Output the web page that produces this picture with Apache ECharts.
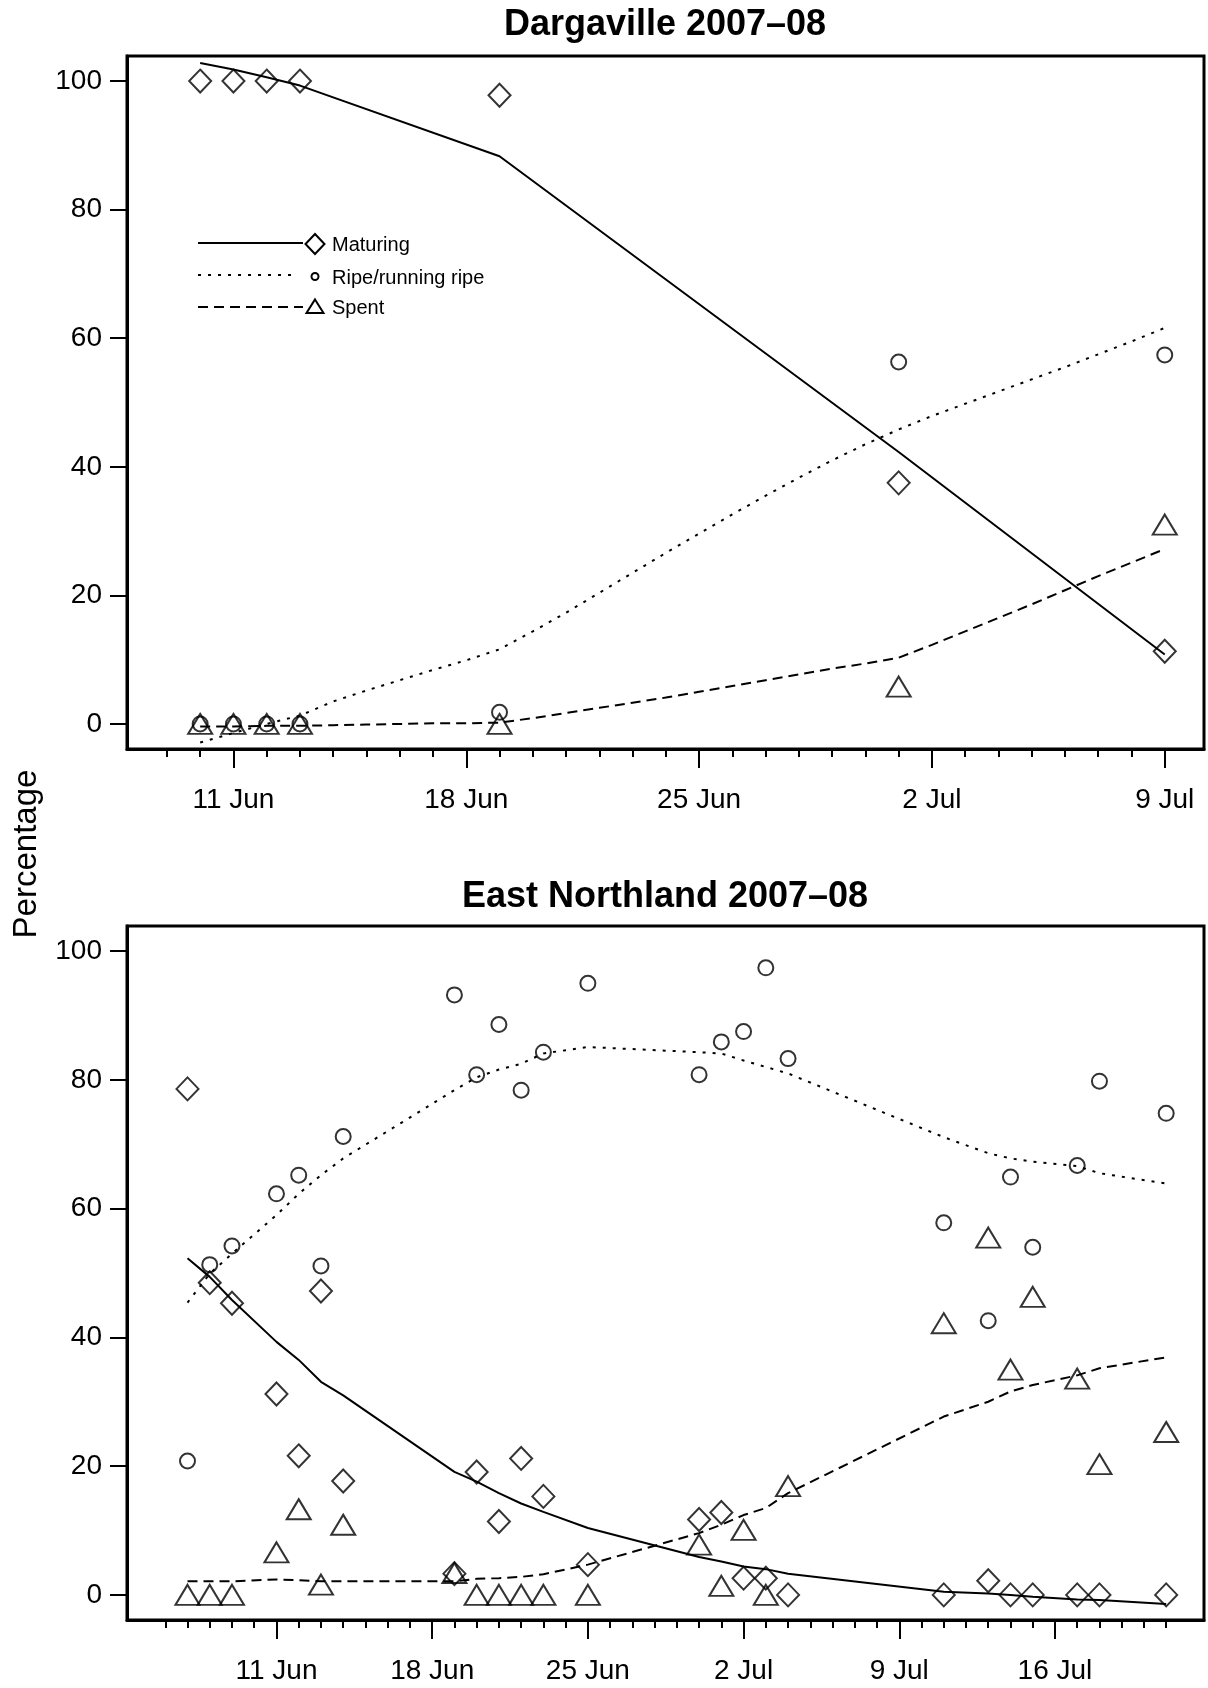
<!DOCTYPE html>
<html>
<head>
<meta charset="utf-8">
<script src="https://cdn.jsdelivr.net/npm/echarts@6/dist/echarts.min.js"></script>
<style>
  html, body { margin: 0; background: #fff; }
  #chart { width: 1208px; height: 1688px; }
</style>
</head>
<body>
<div id="chart"></div>
<script>
// ---- Dargaville 2007-08 ----
const dargDates = ['06-10', '06-11', '06-12', '06-13', '06-19', '07-01', '07-09']
const dargMaturing = [100, 100, 100, 100, 97.8, 37.5, 11.3]
const dargRipe = [0, 0, 0, 0, 1.8, 56.3, 57.4]
const dargSpent = [0, 0, 0, 0, 0, 5.8, 31.0]
const dargMaturingFit = [102.8, 101.8, 100.6, 99.3, 88.3, 42.3, 10.8]
const dargFitDates = [
  '06-10', '06-11', '06-12', '06-13', '06-14', '06-15', '06-16', '06-17', '06-18', '06-19',
  '06-20', '06-21', '06-22', '06-23', '06-24', '06-25', '06-26', '06-27', '06-28', '06-29',
  '06-30', '07-01', '07-02', '07-03', '07-04', '07-05', '07-06', '07-07', '07-08', '07-09',
]
const dargRipeFit = [
  -2.9, -1.4, 0.0, 1.3, 3.5, 5.2, 6.8, 8.4, 9.9, 11.6,
  14.4, 17.3, 20.4, 23.5, 26.6, 29.6, 32.6, 35.5, 38.3, 41.0,
  43.5, 45.8, 47.9, 49.8, 51.7, 53.6, 55.5, 57.5, 59.5, 61.6,
]
const dargSpentFit = [
  -0.4, -0.4, -0.3, -0.3, -0.2, -0.1, 0.0, 0.1, 0.1, 0.2,
  0.9, 1.7, 2.5, 3.3, 4.1, 5.0, 5.9, 6.8, 7.7, 8.6,
  9.4, 10.3, 12.3, 14.4, 16.5, 18.6, 20.8, 23.0, 25.1, 27.2,
]
const dargMajorTicks = ['06-11', '06-18', '06-25', '07-02', '07-09']
const dargTickLabels = ['11 Jun', '18 Jun', '25 Jun', '2 Jul', '9 Jul']

// ---- East Northland 2007-08 ----
const enDates = [
  '06-07', '06-08', '06-09', '06-11', '06-12', '06-13', '06-14', '06-19', '06-20', '06-21',
  '06-22', '06-23', '06-25', '06-30', '07-01', '07-02', '07-03', '07-04', '07-11', '07-13',
  '07-14', '07-15', '07-17', '07-18', '07-21',
]
const enMaturing = [
  78.6, 48.5, 45.3, 31.2, 21.6, 47.2, 17.7, 3.3, 19.1, 11.4,
  21.2, 15.3, 4.7, 11.7, 12.8, 2.6, 2.6, 0, 0, 2.2,
  0, 0, 0, 0, 0,
]
const enRipe = [
  20.8, 51.3, 54.2, 62.3, 65.2, 51.1, 71.2, 93.2, 80.8, 88.6,
  78.4, 84.3, 95.0, 80.8, 85.9, 87.5, 97.4, 83.3, 57.8, 42.6,
  64.9, 54.0, 66.7, 79.8, 74.8,
]
const enSpent = [
  0, 0, 0, 6.6, 13.3, 1.6, 10.9, 3.4, 0, 0,
  0, 0, 0, 7.8, 1.4, 10.1, 0, 16.9, 42.2, 55.5,
  35.0, 46.3, 33.6, 20.3, 25.3,
]
const enMaturingFit = [
  52.3, 49.4, 45.8, 39.3, 36.5, 33.1, 31.0, 19.1, 17.6, 15.8,
  14.2, 12.9, 10.4, 5.9, 5.2, 4.4, 4.0, 3.3, 0.5, 0.2,
  0.0, -0.3, -0.7, -0.8, -1.4,
]
const enRipeFit = [
  45.4, 49.9, 53.0, 59.0, 62.3, 65.2, 67.8, 78.4, 80.4, 81.6,
  82.5, 84.1, 85.1, 84.3, 84.1, 83.0, 82.0, 81.0, 71.1, 68.6,
  67.8, 67.3, 66.6, 65.5, 63.9,
]
const enSpentFit = [
  2.1, 2.1, 2.1, 2.4, 2.3, 2.1, 2.1, 2.1, 2.5, 2.6,
  2.8, 3.2, 4.7, 9.6, 10.9, 12.4, 13.5, 15.8, 27.7, 30.0,
  31.6, 32.6, 34.1, 35.2, 36.9,
]
const enMajorTicks = ['06-11', '06-18', '06-25', '07-02', '07-09', '07-16']
const enTickLabels = ['11 Jun', '18 Jun', '25 Jun', '2 Jul', '9 Jul', '16 Jul']

const yTicks = [0, 20, 40, 60, 80, 100]

const FONT = '"Liberation Sans", Arial, sans-serif'
const BLACK = '#000'
const HOLLOW = 'rgba(0,0,0,0)'

function toDay(md) {
  return Date.UTC(2007, Number(md.slice(0, 2)) - 1, Number(md.slice(3))) / 86400000
}

function pairs(dates, values) {
  return dates.map((d, i) => [toDay(d), values[i]])
}

function dailyTicks(from, to) {
  const out = []
  for (let d = toDay(from); d <= toDay(to); d++) out.push(d)
  return out
}

const panels = [
  {
    top: 56, height: 693,
    min: toDay('06-11') - 3.2, max: toDay('06-11') + 29.18,
    minorFrom: '06-09', minorTo: '07-09',
    majors: dargMajorTicks, labels: dargTickLabels,
    dates: dargDates, maturing: dargMaturing, ripe: dargRipe, spent: dargSpent,
    maturingFit: pairs(dargDates, dargMaturingFit),
    ripeFit: pairs(dargFitDates, dargRipeFit),
    spentFit: pairs(dargFitDates, dargSpentFit),
  },
  {
    top: 926, height: 694,
    min: toDay('06-11') - 6.72, max: toDay('06-11') + 41.7,
    minorFrom: '06-06', minorTo: '07-21',
    majors: enMajorTicks, labels: enTickLabels,
    dates: enDates, maturing: enMaturing, ripe: enRipe, spent: enSpent,
    maturingFit: pairs(enDates, enMaturingFit),
    ripeFit: pairs(enDates, enRipeFit),
    spentFit: pairs(enDates, enSpentFit),
  },
]

const grid = []
const xAxis = []
const yAxis = []
const series = []

panels.forEach((p, i) => {
  const majorDays = p.majors.map(toDay)
  grid.push({
    left: 127, right: 4, top: p.top, height: p.height,
    show: true, borderColor: BLACK, borderWidth: 3, backgroundColor: 'transparent',
  })
  xAxis.push({
    type: 'value', gridIndex: i, position: 'bottom', min: p.min, max: p.max,
    axisLine: { show: true, onZero: false, lineStyle: { color: BLACK, width: 3 } },
    axisTick: { show: true, customValues: dailyTicks(p.minorFrom, p.minorTo), length: 8, lineStyle: { color: BLACK, width: 2 } },
    axisLabel: { show: false },
    splitLine: { show: false },
  })
  xAxis.push({
    type: 'value', gridIndex: i, position: 'bottom', min: p.min, max: p.max,
    axisLine: { show: false, onZero: false },
    axisTick: { show: true, customValues: majorDays, length: 19, lineStyle: { color: BLACK, width: 2 } },
    axisLabel: {
      show: true, customValues: majorDays, margin: 37,
      color: BLACK, fontSize: 28, fontFamily: FONT,
      formatter: (v) => p.labels[majorDays.indexOf(Math.round(v))] || '',
    },
    splitLine: { show: false },
  })
  yAxis.push({
    type: 'value', gridIndex: i, min: -3.9, max: 103.9,
    axisLine: { show: true, lineStyle: { color: BLACK, width: 3 } },
    axisTick: { show: true, customValues: yTicks, length: 17, lineStyle: { color: BLACK, width: 2 } },
    axisLabel: { customValues: yTicks, margin: 25, color: BLACK, fontSize: 28, fontFamily: FONT },
    splitLine: { show: false },
  })

  const base = { xAxisIndex: 2 * i, yAxisIndex: i, silent: true }
  const marker = { color: HOLLOW, borderColor: BLACK, borderWidth: 2 }
  series.push(
    { ...base, type: 'line', data: p.maturingFit, showSymbol: false, symbol: 'none', lineStyle: { color: BLACK, width: 2, type: 'solid' } },
    { ...base, type: 'line', data: p.ripeFit, showSymbol: false, symbol: 'none', lineStyle: { color: BLACK, width: 2, type: [3, 7] } },
    { ...base, type: 'line', data: p.spentFit, showSymbol: false, symbol: 'none', lineStyle: { color: BLACK, width: 2, type: [10, 6] } },
    { ...base, type: 'scatter', data: pairs(p.dates, p.maturing), symbol: 'diamond', symbolSize: [22, 23], itemStyle: marker },
    { ...base, type: 'scatter', data: pairs(p.dates, p.ripe), symbol: 'circle', symbolSize: 15, itemStyle: marker },
    { ...base, type: 'scatter', data: pairs(p.dates, p.spent), symbol: 'triangle', symbolSize: [24, 20], itemStyle: marker },
  )
})

function text(x, y, str, font, extra) {
  return {
    type: 'text', x, y, silent: true, ...extra,
    style: { text: str, fill: BLACK, font, align: extra?.align || 'left', textAlign: extra?.align || 'left', verticalAlign: 'middle', textVerticalAlign: 'middle' },
  }
}

const stroke = { stroke: BLACK, lineWidth: 2, fill: null }
const graphic = [
  text(665, 25, 'Dargaville 2007–08', `bold 36px ${FONT}`, { align: 'center' }),
  text(665, 897, 'East Northland 2007–08', `bold 36px ${FONT}`, { align: 'center' }),
  { ...text(27, 854, 'Percentage', `33px ${FONT}`, { align: 'center' }), rotation: Math.PI / 2 },
  // legend
  { type: 'line', silent: true, shape: { x1: 198, y1: 243, x2: 303, y2: 243 }, style: { ...stroke } },
  { type: 'polygon', silent: true, shape: { points: [[315, 234], [324.5, 244], [315, 254], [305.5, 244]] }, style: { ...stroke } },
  text(332, 245, 'Maturing', `20px ${FONT}`),
  { type: 'line', silent: true, shape: { x1: 198, y1: 275, x2: 291, y2: 275 }, style: { ...stroke, lineDash: [3, 7] } },
  { type: 'circle', silent: true, shape: { cx: 315, cy: 276.5, r: 3.5 }, style: { ...stroke } },
  text(332, 278, 'Ripe/running ripe', `20px ${FONT}`),
  { type: 'line', silent: true, shape: { x1: 198, y1: 307, x2: 303, y2: 307 }, style: { ...stroke, lineDash: [10, 6] } },
  { type: 'polygon', silent: true, shape: { points: [[315, 299.5], [323.5, 313], [306.5, 313]] }, style: { ...stroke } },
  text(332, 308, 'Spent', `20px ${FONT}`),
]

const chart = echarts.init(document.getElementById('chart'), null, { renderer: 'canvas' })
chart.setOption({
  animation: false,
  backgroundColor: '#fff',
  grid,
  xAxis,
  yAxis,
  series,
  graphic,
})
</script>
</body>
</html>
